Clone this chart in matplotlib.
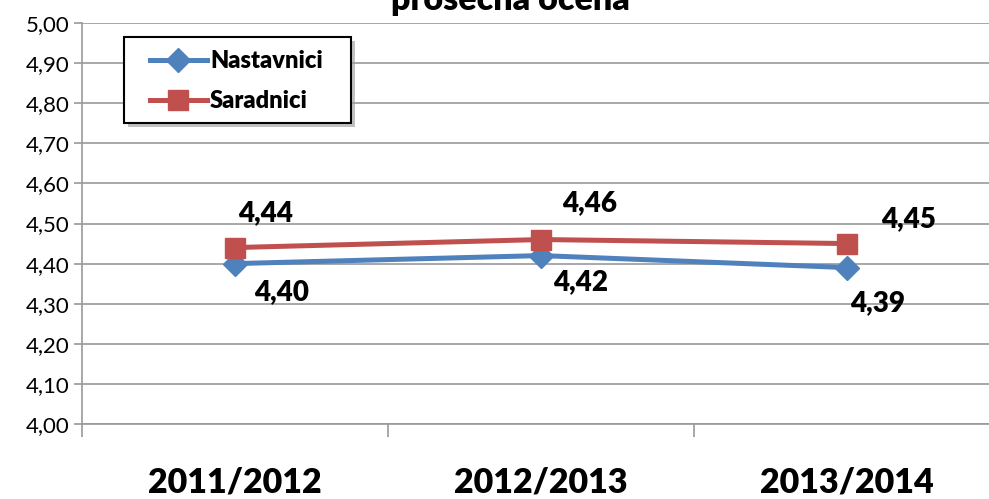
import matplotlib
matplotlib.use("Agg")
import matplotlib.pyplot as plt
import matplotlib.patheffects as pe
from matplotlib.patches import Rectangle
from matplotlib.transforms import IdentityTransform

plt.rcParams["font.family"] = ["Lato", "DejaVu Sans"]

years = ["2011/2012", "2012/2013", "2013/2014"]
nastavnici = [4.40, 4.42, 4.39]
saradnici = [4.44, 4.46, 4.45]
y_ticks = [4.0 + 0.1 * i for i in range(11)]

W, H = 989, 499
fig = plt.figure(figsize=(W / 100, H / 100), dpi=100)
# plot area runs past the right edge of the image, as in the original
ax = fig.add_axes([82 / W, (H - 424) / H, 918 / W, 401 / H])

x = [0.5, 1.5, 2.5]
ax.plot(x, nastavnici, color="#4F81BD", lw=3.6, marker="D", ms=12.5,
        label="Nastavnici", zorder=3)
ax.plot(x, saradnici, color="#C0504D", lw=3.6, marker="s", ms=14.5,
        label="Saradnici", zorder=3)

ax.set_xlim(0, 3)
ax.set_ylim(4.0, 5.0)
ax.set_yticks(y_ticks)
ax.set_yticklabels([f"{v:.2f}".replace(".", ",") for v in y_ticks])
ax.yaxis.grid(True, color="#999999", lw=1.2)
ax.set_axisbelow(True)
ax.set_xticks([0, 1, 2, 3])
ax.set_xticklabels([])
ax.tick_params(axis="x", length=9, color="#999999", width=1.2)
ax.tick_params(axis="y", length=6, color="#999999", width=1.2,
               labelsize=16, pad=3)
for s in ["top", "right"]:
    ax.spines[s].set_visible(False)
ax.spines["left"].set_color("#999999")
ax.spines["left"].set_linewidth(1.2)
ax.spines["bottom"].set_color("#999999")
ax.spines["bottom"].set_linewidth(1.2)

for xi, yr in zip(x, years):
    ax.text(xi, -0.145, yr, transform=ax.get_xaxis_transform(),
            ha="center", va="center", fontsize=24.5, fontweight="heavy")

# data labels
lab_n = [(0.153, -0.07), (0.13, -0.065), (0.1, -0.088)]
lab_s = [(0.1, 0.085), (0.16, 0.09), (0.2, 0.06)]
for xi, v, (dx, dy) in zip(x, nastavnici, lab_n):
    ax.text(xi + dx, v + dy, f"{v:.2f}".replace(".", ","), ha="center",
            va="center", fontsize=20, fontweight="heavy")
for xi, v, (dx, dy) in zip(x, saradnici, lab_s):
    ax.text(xi + dx, v + dy, f"{v:.2f}".replace(".", ","), ha="center",
            va="center", fontsize=20, fontweight="heavy")

# legend without frame; the box is drawn separately so it can be wider
leg = ax.legend(loc="upper left", bbox_to_anchor=(58 / 918, 1 - 17 / 401),
                frameon=False, prop={"weight": "heavy", "size": 17},
                handlelength=2.4, handletextpad=0.15, labelspacing=0.78,
                borderpad=0.42, borderaxespad=0)
leg.set_zorder(6)
fig.canvas.draw()
bb = leg.get_window_extent()
box = Rectangle((bb.x0 - 16, bb.y0 - 1), bb.width + 34, bb.height + 4,
                transform=IdentityTransform(), facecolor="white",
                edgecolor="black", lw=1.5, zorder=5, clip_on=False)
box.set_path_effects([pe.withSimplePatchShadow(offset=(3, -3),
                      shadow_rgbFace="#999999", alpha=0.6)])
ax.add_patch(box)

fig.text(510 / W, (H - 10) / H, "prosečna ocena", ha="center", va="baseline",
         fontsize=24.5, fontweight="heavy")

fig.savefig("out.png", dpi=100)
